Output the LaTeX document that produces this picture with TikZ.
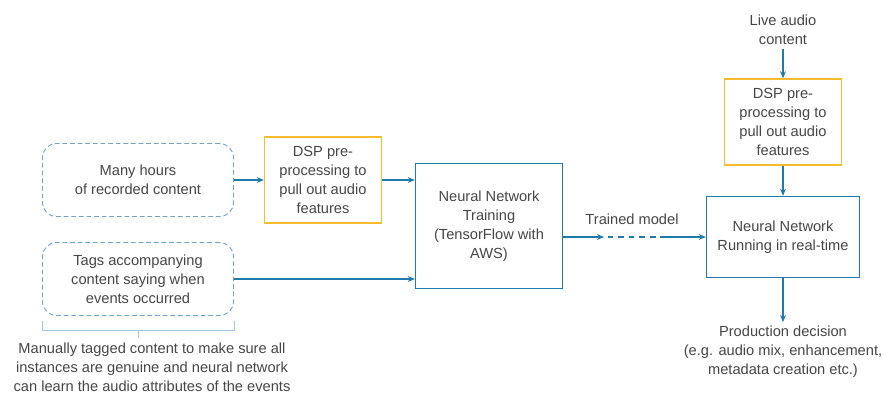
\documentclass[tikz,border=0pt]{standalone}
\usepackage{fontspec}
\setmainfont{Liberation Sans}
\usetikzlibrary{arrows.meta, positioning, calc}

\definecolor{nnblue}{RGB}{32,122,170}
\definecolor{dspyellow}{RGB}{250,188,45}
\definecolor{srcblue}{RGB}{110,165,200}
\definecolor{bracecol}{RGB}{165,200,222}
\definecolor{txtgray}{RGB}{70,70,70}

\begin{document}
\begin{tikzpicture}[
    x=0.03cm, y=-0.03cm,
    every node/.style={text=txtgray, font=\fontsize{12.5}{16.2}\selectfont},
    src/.style={draw=srcblue, dash pattern=on 4pt off 2.5pt, line width=0.8pt,
                rounded corners=12pt, minimum width=5.73cm,
                minimum height=2.19cm, align=center},
    dsp/.style={draw=dspyellow, line width=1.2pt, minimum width=3.51cm,
                minimum height=2.58cm, align=center},
    nn/.style={draw=nnblue, line width=1.2pt, align=center},
    plain/.style={align=center},
    bracket/.style={draw=bracecol, line width=0.8pt},
    flow/.style={draw=nnblue, line width=1.1pt, -{Stealth[length=6pt, width=5pt]}},
    >=Stealth
  ]
  \useasboundingbox (0,0) rectangle (883,394);

  % Sources for training
  \node[src] (hours) at (138,180) {Many hours\\of recorded content};
  \node[src] (tags) at (138,279)
    {Tags accompanying\\content saying when\\events occurred};
  \draw[bracket] ([yshift=-0.15cm]tags.south west) -- ([yshift=-0.42cm]tags.south west)
    -- ([yshift=-0.42cm]tags.south east) -- ([yshift=-0.15cm]tags.south east);
  \draw[bracket] ([yshift=-0.42cm]tags.south) -- ([yshift=-0.66cm]tags.south);
  \node[plain] (manual) at (152,367)
    {Manually tagged content to make sure all\\instances are genuine and neural network\\can learn the audio attributes of the events};

  % Training side
  \node[dsp] (dsp1) at (323,180) {DSP pre-\\processing to\\pull out audio\\features};
  \node[nn, minimum width=4.41cm, minimum height=3.75cm] (train) at (489,226)
    {Neural Network\\Training\\(TensorFlow with\\AWS)};

  % Live side
  \node[plain] (live) at (783,30) {Live audio\\content};
  \node[dsp] (dsp2) at (783,122) {DSP pre-\\processing to\\pull out audio\\features};
  \node[nn, minimum width=4.59cm, minimum height=2.43cm] (run) at (783,237)
    {Neural Network\\Running in real-time};
  \node[plain] (decision) at (783,352)
    {Production decision\\(e.g. audio mix, enhancement,\\metadata creation etc.)};

  % Trained model link
  \coordinate (gapA) at (604,237);
  \coordinate (gapB) at (660,237);
  \node[plain, above=7pt of $(gapA)!0.5!(gapB)$] (model) {Trained model};

  % Arrows
  \draw[flow] (hours) -- (dsp1);
  \draw[flow] (dsp1.east) -- (dsp1.east -| train.west);
  \draw[flow] (tags.east) -- (tags.east -| train.west);
  \draw[flow] (train.east |- run.west) -- (gapA);
  \draw[draw=nnblue, line width=1.1pt, dash pattern=on 5pt off 4pt]
    ([xshift=3pt]gapA) -- (gapB);
  \draw[flow] (gapB) -- (run.west);
  \draw[flow] (live) -- (dsp2);
  \draw[flow] (dsp2) -- (run);
  \draw[flow] (run) -- (decision);

\end{tikzpicture}
\end{document}
